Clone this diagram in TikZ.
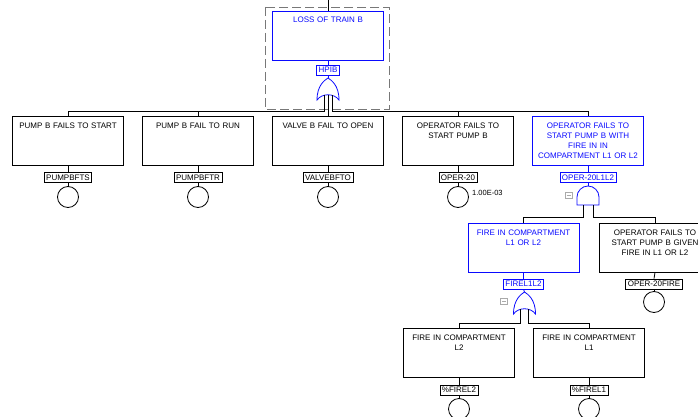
\documentclass[tikz,border=0pt]{standalone}
\usepackage{fontspec}
\setmainfont{Liberation Sans}
\definecolor{tblue}{RGB}{10,10,255}
\definecolor{dgray}{RGB}{120,120,120}
\definecolor{lgray}{RGB}{170,170,170}
\begin{document}
\begin{tikzpicture}[x=1pt,y=-1pt,
  evbox/.style={draw=black, line width=0.9pt, minimum width=111pt, minimum height=49pt, inner sep=0pt},
  bluebox/.style={evbox, draw=tblue},
  evtext/.style={anchor=north, text width=110pt, align=center, font=\fontsize{8}{10}\selectfont, inner sep=0pt},
  tag/.style={draw=black, line width=0.7pt, inner xsep=2pt, inner ysep=0pt, minimum height=10pt, font=\fontsize{8}{9}\selectfont},
  bluetag/.style={tag, draw=tblue, text=tblue},
  basic/.style={circle, draw=black, line width=0.8pt, minimum size=21pt, inner sep=0pt},
  wire/.style={line width=0.8pt, black},
  bwire/.style={line width=0.8pt, tblue},
  orgate/.pic={\draw[line width=0.8pt, tblue] (0,0) .. controls (3,2) and (11,7) .. (11,22) .. controls (6,15) and (-6,15) .. (-11,22) .. controls (-11,7) and (-3,2) .. cycle;},
  andgate/.pic={\draw[line width=0.8pt, tblue] (-11,19) -- (-11,11) .. controls (-11,5) and (-6,0) .. (0,0) .. controls (6,0) and (11,5) .. (11,11) -- (11,19) -- cycle;},
  collapse/.pic={\draw[line width=0.5pt, lgray] (-3.5,-3) rectangle (3.5,3); \draw[line width=0.5pt, lgray] (-2,0) -- (2,0);}
]
\useasboundingbox (0,0) rectangle (698,417);
\fill[white] (0,0) rectangle (698,417);
\clip (0,0) rectangle (698,417);

% ---- top event ----
\coordinate (topin) at (328,0);
\draw[dgray, line width=0.8pt, dash pattern=on 9pt off 4pt] (265,7) rectangle (389,109);
\node[bluebox] (top) at (328,35.5) {};
\node[evtext, text=tblue] (topT) at (328,17) {LOSS OF TRAIN B};
\node[bluetag] (lhpib) at (328,70) {HPIB};
\pic at (328,78) {orgate};
\coordinate (hpibtop) at (328,78);
\coordinate (hpibL) at (324,95);
\coordinate (hpibM) at (328,95);
\coordinate (hpibR) at (332,95);
\coordinate (bus1) at (0,111.5);
\draw[wire] (topin) -- (top.north);
\draw[bwire] (top.south) -- (lhpib.north);
\draw[bwire] (lhpib.south) -- (hpibtop);

% ---- first row ----
\node[evbox] (b1) at (68,140.5) {};
\node[evbox] (b2) at (198,140.5) {};
\node[evbox] (b3) at (328,140.5) {};
\node[evbox] (b4) at (458,140.5) {};
\node[bluebox] (b5) at (588,140.5) {};
\node[evtext] (b1t) at (68,122.5) {PUMP B FAILS TO START};
\node[evtext] (b2t) at (198,122.5) {PUMP B FAIL TO RUN};
\node[evtext] (b3t) at (328,122.5) {VALVE B FAIL TO OPEN};
\node[evtext] (b4t) at (458,122.5) {OPERATOR FAILS TO\\START PUMP B};
\node[evtext, text=tblue] (b5t) at (588,122.5) {OPERATOR FAILS TO\\START PUMP B WITH\\FIRE IN IN\\COMPARTMENT L1 OR L2};

\draw[wire] (hpibL) -- (hpibL |- bus1) -| (b1.north);
\draw[wire] (b2.north) -- (b2.north |- bus1);
\draw[wire] (hpibM) -- (b3.north);
\draw[wire] (hpibR) -- (hpibR |- bus1) -| (b5.north);
\draw[wire] (b4.north) -- (b4.north |- bus1);

\node[tag] (l1) at (68,177.5) {PUMPBFTS};
\node[tag] (l2) at (198,177.5) {PUMPBFTR};
\node[tag] (l3) at (328,177.5) {VALVEBFTO};
\node[tag] (l4) at (458,177.5) {OPER-20};
\node[bluetag] (l5) at (588,177.5) {OPER-20L1L2};
\node[basic] (c1) at (68,197) {};
\node[basic] (c2) at (198,197) {};
\node[basic] (c3) at (328,197) {};
\node[basic] (c4) at (458,197) {};
\node[anchor=west, inner sep=0pt, font=\fontsize{7.5}{9}\selectfont] (p4) at (472,193) {1.00E-03};
\foreach \i in {1,2,3,4}{
  \draw[wire] (b\i.south) -- (l\i.north);
  \draw[wire] (l\i.south) -- (c\i.north);
}
\draw[bwire] (b5.south) -- (l5.north);
\pic at (588,186) {andgate};
\coordinate (andtop) at (588,186);
\draw[bwire] (l5.south) -- (andtop);
\pic at (568.5,195) {collapse};
\coordinate (andL) at (583,205);
\coordinate (andR) at (593,205);
\coordinate (bus2) at (0,217.5);

% ---- second row ----
\node[bluebox] (fb) at (523.5,247.5) {};
\node[evbox] (ob) at (655,247.5) {};
\node[evtext, text=tblue] (fbt) at (523.5,229.5) {FIRE IN COMPARTMENT\\L1 OR L2};
\node[evtext] (obt) at (655,229.5) {OPERATOR FAILS TO\\START PUMP B GIVEN\\FIRE IN L1 OR L2};
\draw[wire] (andL) -- (andL |- bus2) -| (fb.north);
\draw[wire] (andR) -- (andR |- bus2) -| (ob.north);
\node[bluetag] (lf) at (523.5,284) {FIREL1L2};
\node[tag] (lo) at (654,284) {OPER-20FIRE};
\node[basic] (co) at (654,302) {};
\draw[bwire] (fb.south) -- (lf.north);
\draw[wire] (ob.south) -- (lo.north);
\draw[wire] (lo.south) -- (co.north);
\pic at (524.5,292) {orgate};
\coordinate (ortop) at (524.5,292);
\draw[bwire] (lf.south) -- (ortop);
\pic at (504,301.5) {collapse};
\coordinate (orL) at (520.5,309);
\coordinate (orR) at (528.5,309);
\coordinate (bus3) at (0,323.5);

% ---- third row ----
\node[evbox] (f2) at (459,353) {};
\node[evbox] (f1) at (589,353) {};
\node[evtext] (f2t) at (459,335) {FIRE IN COMPARTMENT\\L2};
\node[evtext] (f1t) at (589,335) {FIRE IN COMPARTMENT\\L1};
\draw[wire] (orL) -- (orL |- bus3) -| (f2.north);
\draw[wire] (orR) -- (orR |- bus3) -| (f1.north);
\node[tag] (lf2) at (459,390) {\%FIREL2};
\node[tag] (lf1) at (589,390) {\%FIREL1};
\node[basic] (cf2) at (459,409) {};
\node[basic] (cf1) at (589,409) {};
\draw[wire] (f2.south) -- (lf2.north);
\draw[wire] (lf2.south) -- (cf2.north);
\draw[wire] (f1.south) -- (lf1.north);
\draw[wire] (lf1.south) -- (cf1.north);
\end{tikzpicture}
\end{document}
